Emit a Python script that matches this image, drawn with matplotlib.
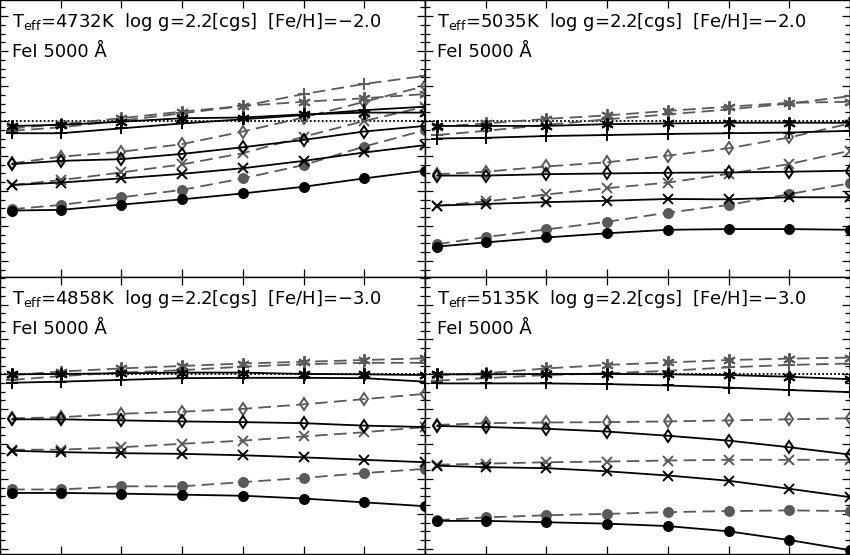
import matplotlib
matplotlib.use("Agg")
import matplotlib.pyplot as plt
from matplotlib.ticker import MultipleLocator

x = [0.2, 1, 2, 3, 4, 5, 6, 7]

titles = [r"T$_{\rm eff}$=4732K  log g=2.2[cgs]  [Fe/H]=$-$2.0",
          r"T$_{\rm eff}$=5035K  log g=2.2[cgs]  [Fe/H]=$-$2.0",
          r"T$_{\rm eff}$=4858K  log g=2.2[cgs]  [Fe/H]=$-$3.0",
          r"T$_{\rm eff}$=5135K  log g=2.2[cgs]  [Fe/H]=$-$3.0"]
line_label = "FeI 5000 Å"

# Panel 1: Teff=4732, [Fe/H]=-2
p1_circle_s = [-0.256, -0.254, -0.239, -0.224, -0.207, -0.188, -0.164, -0.142]
p1_circle_d = [-0.252, -0.240, -0.218, -0.197, -0.164, -0.126, -0.073, -0.026]
p1_x_s = [-0.183, -0.176, -0.164, -0.151, -0.135, -0.114, -0.090, -0.069]
p1_x_d = [-0.183, -0.169, -0.147, -0.124, -0.092, -0.045, 0.000, 0.041]
p1_dia_s = [-0.123, -0.114, -0.109, -0.094, -0.075, -0.054, -0.030, -0.014]
p1_dia_d = [-0.121, -0.102, -0.088, -0.066, -0.030, 0.010, 0.055, 0.100]
p1_plus_s = [-0.035, -0.035, -0.021, -0.007, 0.005, 0.017, 0.031, 0.041]
p1_plus_d = [-0.028, -0.018, 0.001, 0.022, 0.043, 0.077, 0.106, 0.129]
p1_ast_s = [-0.014, -0.011, -0.002, 0.008, 0.010, 0.019, 0.024, 0.024]
p1_ast_d = [-0.021, -0.009, 0.008, 0.027, 0.043, 0.055, 0.065, 0.077]

# Panel 2: Teff=5035, [Fe/H]=-2
p2_circle_s = [-0.359, -0.347, -0.333, -0.321, -0.311, -0.309, -0.309, -0.311]
p2_circle_d = [-0.352, -0.332, -0.310, -0.288, -0.262, -0.240, -0.209, -0.178]
p2_x_s = [-0.242, -0.237, -0.232, -0.228, -0.223, -0.224, -0.218, -0.218]
p2_x_d = [-0.242, -0.230, -0.210, -0.192, -0.176, -0.151, -0.123, -0.085]
p2_dia_s = [-0.156, -0.156, -0.152, -0.150, -0.148, -0.147, -0.145, -0.142]
p2_dia_d = [-0.152, -0.145, -0.130, -0.118, -0.099, -0.078, -0.047, -0.007]
p2_plus_s = [-0.050, -0.048, -0.043, -0.040, -0.037, -0.035, -0.033, -0.028]
p2_plus_d = [-0.040, -0.028, -0.011, 0.005, 0.019, 0.033, 0.050, 0.071]
p2_ast_s = [-0.014, -0.014, -0.014, -0.009, -0.007, -0.005, -0.005, -0.005]
p2_ast_d = [-0.016, -0.007, 0.006, 0.016, 0.029, 0.041, 0.052, 0.055]

# Panel 3: Teff=4858, [Fe/H]=-3
p3_circle_s = [-0.340, -0.340, -0.342, -0.345, -0.348, -0.356, -0.367, -0.378]
p3_circle_d = [-0.330, -0.330, -0.321, -0.321, -0.309, -0.297, -0.283, -0.271]
p3_x_s = [-0.219, -0.223, -0.226, -0.228, -0.232, -0.238, -0.245, -0.252]
p3_x_d = [-0.216, -0.216, -0.209, -0.199, -0.190, -0.178, -0.166, -0.151]
p3_dia_s = [-0.129, -0.129, -0.132, -0.135, -0.137, -0.140, -0.147, -0.151]
p3_dia_d = [-0.126, -0.123, -0.113, -0.107, -0.099, -0.086, -0.071, -0.056]
p3_plus_s = [-0.024, -0.021, -0.016, -0.011, -0.010, -0.010, -0.011, -0.021]
p3_plus_d = [-0.016, -0.005, 0.005, 0.012, 0.022, 0.029, 0.033, 0.033]
p3_ast_s = [0.000, 0.001, 0.003, 0.005, 0.005, 0.001, 0.000, -0.002]
p3_ast_d = [-0.002, 0.008, 0.017, 0.024, 0.031, 0.036, 0.041, 0.046]

# Panel 4: Teff=5135, [Fe/H]=-3
p4_circle_s = [-0.420, -0.420, -0.424, -0.428, -0.435, -0.450, -0.475, -0.504]
p4_circle_d = [-0.418, -0.410, -0.404, -0.400, -0.395, -0.392, -0.390, -0.392]
p4_x_s = [-0.262, -0.266, -0.269, -0.278, -0.290, -0.305, -0.328, -0.352]
p4_x_d = [-0.259, -0.256, -0.252, -0.250, -0.247, -0.245, -0.245, -0.245]
p4_dia_s = [-0.148, -0.151, -0.156, -0.164, -0.176, -0.190, -0.209, -0.230]
p4_dia_d = [-0.145, -0.140, -0.138, -0.137, -0.135, -0.132, -0.129, -0.126]
p4_plus_s = [-0.026, -0.026, -0.026, -0.028, -0.032, -0.038, -0.045, -0.051]
p4_plus_d = [-0.018, -0.011, -0.002, 0.003, 0.010, 0.020, 0.027, 0.031]
p4_ast_s = [0.000, 0.000, 0.001, 0.001, 0.000, -0.002, -0.007, -0.014]
p4_ast_d = [-0.002, 0.003, 0.017, 0.027, 0.034, 0.041, 0.045, 0.048]

panels = [
    (p1_circle_s, p1_circle_d, p1_x_s, p1_x_d, p1_dia_s, p1_dia_d, p1_plus_s, p1_plus_d, p1_ast_s, p1_ast_d),
    (p2_circle_s, p2_circle_d, p2_x_s, p2_x_d, p2_dia_s, p2_dia_d, p2_plus_s, p2_plus_d, p2_ast_s, p2_ast_d),
    (p3_circle_s, p3_circle_d, p3_x_s, p3_x_d, p3_dia_s, p3_dia_d, p3_plus_s, p3_plus_d, p3_ast_s, p3_ast_d),
    (p4_circle_s, p4_circle_d, p4_x_s, p4_x_d, p4_dia_s, p4_dia_d, p4_plus_s, p4_plus_d, p4_ast_s, p4_ast_d),
]
ylims = [(-0.446, 0.346), (-0.446, 0.346), (-0.515, 0.279), (-0.515, 0.279)]

plt.rcParams['font.family'] = ['DejaVu Sans']
fig = plt.figure(figsize=(8.5, 5.55), dpi=100)
W, H = 850, 555
rects = [(0, 0, 425, 277), (425, 0, 425, 277), (0, 277, 425, 277), (425, 277, 425, 277)]

gray = '#5a5a5a'
ast = (6, 2, 0)
markers = [
    dict(marker='o', ms=6.5, mfc=None),
    dict(marker='x', ms=7, mfc=None),
    dict(marker='d', ms=6.2, mfc='none'),
    dict(marker='+', ms=9, mfc=None),
    dict(marker=ast, ms=9, mfc=None),
]

for i, (l, t, w, h) in enumerate(rects):
    ax = fig.add_axes([l / W, 1 - (t + h) / H, w / W, h / H])
    data = panels[i]
    ax.axhline(0, color='black', ls=(0, (1, 1.2)), lw=1.3, zorder=1)
    # dashed gray first
    for k in range(5):
        m = markers[k]
        kw = dict(marker=m['marker'], ms=m['ms'], mew=1.4)
        if m['mfc'] is not None:
            kw['mfc'] = m['mfc']
        ax.plot(x, data[2 * k + 1], color=gray, ls=(0, (7, 3.5)), lw=1.3, zorder=2, **kw)
    for k in range(5):
        m = markers[k]
        kw = dict(marker=m['marker'], ms=m['ms'], mew=1.4)
        if m['mfc'] is not None:
            kw['mfc'] = m['mfc']
        ax.plot(x, data[2 * k], color='black', ls='-', lw=1.3, zorder=3, **kw)
    ax.set_xlim(0, 7)
    ax.set_ylim(*ylims[i])
    ax.xaxis.set_major_locator(MultipleLocator(1))
    ax.yaxis.set_major_locator(MultipleLocator(0.1))
    ax.yaxis.set_minor_locator(MultipleLocator(0.025))
    ax.tick_params(which='both', direction='in', top=True, right=True,
                   labelbottom=False, labelleft=False, width=0.9)
    ax.tick_params(axis='x', which='major', length=5.5)
    ax.tick_params(axis='y', which='major', length=6)
    ax.tick_params(axis='y', which='minor', length=3.5)
    for s in ax.spines.values():
        s.set_linewidth(1.0)
    ax.text(12 / w, 1 - 27 / h, titles[i], transform=ax.transAxes,
            fontsize=13, ha='left', va='baseline')
    ax.text(12 / w, 1 - 57 / h, line_label, transform=ax.transAxes,
            fontsize=13, ha='left', va='baseline')

fig.savefig('out.png', dpi=100)
